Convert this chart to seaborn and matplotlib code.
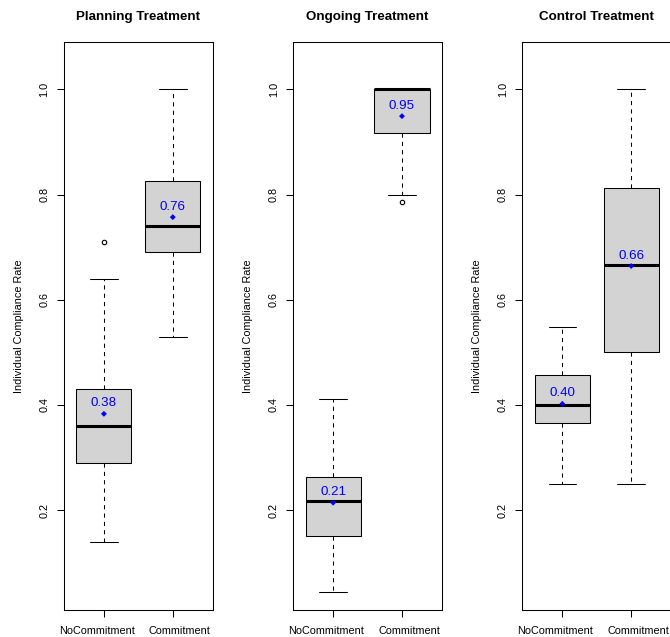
import numpy as np
import pandas as pd
import matplotlib
matplotlib.use("Agg")
import matplotlib.pyplot as plt
import matplotlib.transforms as mtransforms
import seaborn as sns

# ---- data ----
panels = ["Planning Treatment", "Ongoing Treatment", "Control Treatment"]
conditions = ["NoCommitment", "Commitment"]
whislo = [[0.14, 0.53], [0.045, 0.80], [0.25, 0.25]]
q1 = [[0.29, 0.69], [0.15, 0.917], [0.366, 0.50]]
med = [[0.36, 0.74], [0.217, 1.00], [0.40, 0.666]]
q3 = [[0.43, 0.825], [0.263, 1.00], [0.456, 0.812]]
whishi = [[0.64, 1.00], [0.412, 1.00], [0.549, 1.00]]
outliers = [[[0.71], []], [[], [0.786]], [[], []]]
means = [[0.383, 0.757], [0.214, 0.949], [0.402, 0.664]]
yticks = [0.2, 0.4, 0.6, 0.8, 1.0]
ylabel = "Individual Compliance Rate"

sns.set_theme(style="ticks")
plt.rcParams['font.family'] = ['Liberation Sans', 'DejaVu Sans']

W, H = 670, 637
fig = plt.figure(figsize=(W / 100, H / 100), dpi=100)

base_fs = 7.8
big_fs = 9.65
lw = 0.75
label_shift_px = [-7, 7]

for i, title in enumerate(panels):
    left = 64 + i * 229.2
    ax = fig.add_axes([left / W, 27 / H, 148.7 / W, 568 / H])
    stats = []
    for j, c in enumerate(conditions):
        stats.append(dict(label=c, whislo=whislo[i][j], q1=q1[i][j], med=med[i][j],
                          q3=q3[i][j], whishi=whishi[i][j], fliers=outliers[i][j]))
    ax.bxp(stats, positions=[0, 1], widths=0.8, capwidths=0.4, patch_artist=True,
           showfliers=True,
           boxprops=dict(facecolor='#d3d3d3', edgecolor='black', linewidth=lw),
           medianprops=dict(color='black', linewidth=2.2, solid_capstyle='butt'),
           whiskerprops=dict(color='black', linewidth=lw, linestyle=(0, (4, 4))),
           capprops=dict(color='black', linewidth=lw),
           flierprops=dict(marker='o', markersize=3.2, markerfacecolor='none',
                           markeredgecolor='black', markeredgewidth=0.8))
    df = pd.DataFrame({'condition': conditions, 'pos': [0, 1], 'mean': means[i]})
    sns.scatterplot(data=df, x='pos', y='mean', marker='D', s=9, color='blue',
                    edgecolor='none', ax=ax, legend=False, zorder=5)
    for _, r in df.iterrows():
        ax.text(r['pos'], r['mean'] + 0.02, f"{r['mean']:.2f}", color='blue',
                ha='center', va='center', fontsize=big_fs, zorder=6)

    ax.set_xlim(-0.58, 1.58)
    ax.set_ylim(0.01, 1.09)
    ax.set_xticks([0, 1])
    ax.set_xticklabels([])
    ax.set_yticks(yticks)
    ax.set_yticklabels([f"{t:.1f}" for t in yticks], rotation=90, va='center')
    ax.set_xlabel("")
    ax.set_ylabel("")
    ax.tick_params(direction='out', length=4.8, width=lw, color='black',
                   labelsize=base_fs, pad=5.6, bottom=True, left=True,
                   labelcolor='black')
    # category labels under the ticks
    blend = mtransforms.blended_transform_factory(ax.transData, ax.transAxes)
    for pos, c, dx in zip(df['pos'], conditions, label_shift_px):
        tr = blend + mtransforms.ScaledTranslation(dx / 100, 0, fig.dpi_scale_trans)
        ax.text(pos, (610 - 631) / 568, c, transform=tr, ha='center', va='center',
                fontsize=base_fs, color='black', clip_on=False)
    for sp in ax.spines.values():
        sp.set_visible(True)
        sp.set_color('black')
        sp.set_linewidth(lw)
    ax.text(0.5, 1.0387, title, transform=ax.transAxes, ha='center', va='baseline',
            fontsize=big_fs, fontweight='bold', color='black')
    ax.text((19 - 64) / 148.7, 0.5, ylabel, rotation=90, ha='center', va='center',
            transform=ax.transAxes, fontsize=base_fs, color='black')

fig.savefig("out.png", dpi=100)
